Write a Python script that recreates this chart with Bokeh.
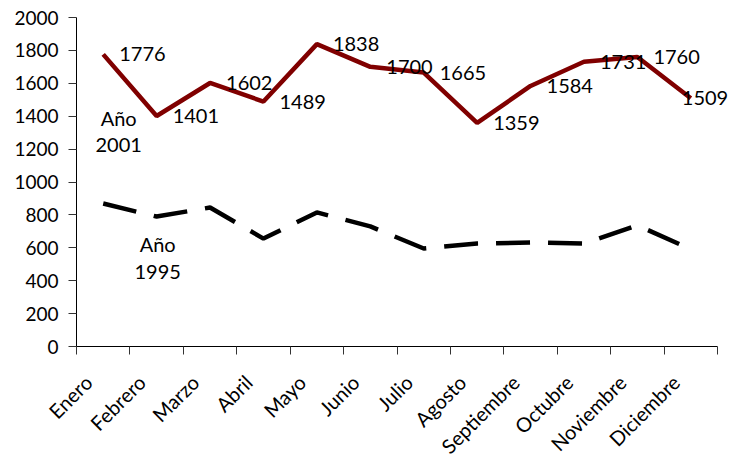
import math
from bokeh.plotting import figure
from bokeh.models import ColumnDataSource, Range1d, FixedTicker, Label, LabelSet
from bokeh.core.properties import value
from bokeh.embed import file_html
from bokeh.resources import INLINE

# Monthly values for the two years
meses = ["Enero", "Febrero", "Marzo", "Abril", "Mayo", "Junio", "Julio",
         "Agosto", "Septiembre", "Octubre", "Noviembre", "Diciembre"]
anio_2001 = [1776, 1401, 1602, 1489, 1838, 1700, 1665, 1359, 1584, 1731, 1760, 1509]
anio_1995 = [869, 790, 845, 656, 815, 730, 596, 626, 632, 626, 736, 592]
y_ticks = [0, 200, 400, 600, 800, 1000, 1200, 1400, 1600, 1800, 2000]

FONT = "Lato"
RED = "#800000"

xs = list(range(len(meses)))
# value labels sit to the right of each point; the last one is pulled back
label_dx = [16] * (len(meses) - 1) + [-9]

src01 = ColumnDataSource(dict(x=xs, y=anio_2001,
                              txt=[str(v) for v in anio_2001], dx=label_dx))
src95 = ColumnDataSource(dict(x=xs, y=anio_1995))

# The frame fills the whole canvas; both axes are pinned at the data
# origin (month boundary -0.5 and value 0) and bounded to the data extent,
# which leaves room for the slanted month names and the outer labels.
W, H = 729, 457
x_lo, x_hi = -0.5, len(meses) - 0.5
y_lo, y_hi = 0, 2000
px_x = 641 / len(meses)          # pixels per month
px_y = 329 / (y_hi - y_lo)       # pixels per unit
x_range = Range1d(x_lo - 76 / px_x, x_hi + 12 / px_x)
y_range = Range1d(y_lo - 111 / px_y, y_hi + 17 / px_y)

p = figure(width=W, height=H, x_range=x_range, y_range=y_range,
           output_backend="svg", toolbar_location=None,
           min_border_left=0, min_border_right=0,
           min_border_top=0, min_border_bottom=0)
p.outline_line_color = None
p.background_fill_color = "white"
p.border_fill_color = "white"
p.xgrid.grid_line_color = None
p.ygrid.grid_line_color = None

# 1995: black dashed line
p.line("x", "y", source=src95, line_color="black", line_width=4.5,
       line_dash="34 18")

# 2001: dark red line with value labels
p.line("x", "y", source=src01, line_color=RED, line_width=4.5)
p.add_layout(LabelSet(x="x", y="y", text="txt", source=src01, x_offset="dx",
                      text_align="left", text_baseline="middle",
                      text_font=value(FONT), text_font_size="20px",
                      text_color="black"))

# series labels
for x, y, t in [(0.29, 1392, "Año"), (0.29, 1222, "2001"),
                (1.02, 626, "Año"), (1.02, 450, "1995")]:
    p.add_layout(Label(x=x, y=y, text=t, text_align="center",
                       text_baseline="middle", text_font=FONT,
                       text_font_size="20px", text_color="black"))

# x axis at y=0: slanted month names just left of each centre,
# tick marks on the category boundaries
shift = 0.28
label_pos = [i - shift for i in xs]
xa = p.xaxis[0]
xa.fixed_location = y_lo
xa.bounds = (x_lo, x_hi)
xa.ticker = FixedTicker(ticks=label_pos,
                        minor_ticks=[i - 0.5 for i in range(len(meses) + 1)])
xa.major_label_overrides = {pos: m for pos, m in zip(label_pos, meses)}
xa.major_tick_line_color = None
xa.minor_tick_in = 0
xa.minor_tick_out = 8
xa.minor_tick_line_color = "#333333"
xa.axis_line_color = "black"
xa.major_label_orientation = math.pi / 4
xa.major_label_text_font = FONT
xa.major_label_text_font_size = "20px"
xa.major_label_text_color = "black"
xa.major_label_standoff = 24

# y axis at the first month boundary
ya = p.yaxis[0]
ya.fixed_location = x_lo
ya.bounds = (y_lo, y_hi)
ya.ticker = FixedTicker(ticks=y_ticks)
ya.minor_tick_line_color = None
ya.major_tick_in = 0
ya.major_tick_out = 8
ya.major_tick_line_color = "#333333"
ya.axis_line_color = "black"
ya.major_label_text_font = FONT
ya.major_label_text_font_size = "19px"
ya.major_label_text_color = "black"
ya.major_label_standoff = 10

open("out.html", "w").write(file_html(p, INLINE))
